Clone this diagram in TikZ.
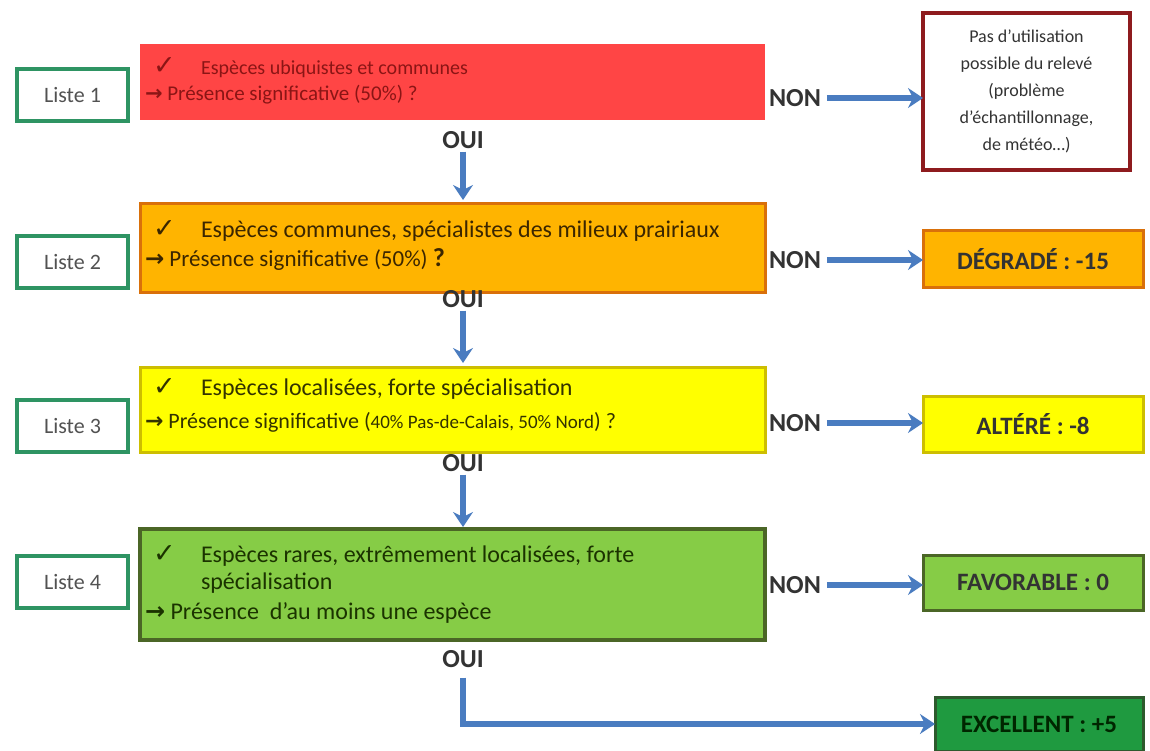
\documentclass[tikz,border=0pt]{standalone}
\usepackage{fontspec}
\setmainfont{Carlito}
\newfontfamily\symfont{DejaVu Sans}
\usetikzlibrary{arrows.meta}
\definecolor{listeg}{HTML}{2E9463}
\definecolor{redfill}{HTML}{FF4545}
\definecolor{orfill}{HTML}{FFB400}
\definecolor{ordraw}{HTML}{D9700A}
\definecolor{yefill}{HTML}{FFFF00}
\definecolor{yedraw}{HTML}{CDBE00}
\definecolor{grfill}{HTML}{86CC46}
\definecolor{grdraw}{HTML}{4B6626}
\definecolor{exfill}{HTML}{1F9A40}
\definecolor{exdraw}{HTML}{2D5A2D}
\definecolor{arrblue}{HTML}{4A7CC0}
\definecolor{darkred}{HTML}{8E1B1E}
\definecolor{redtxt}{HTML}{8B1515}
\definecolor{ortxt}{HTML}{3B2600}
\definecolor{yetxt}{HTML}{333300}
\definecolor{grtxt}{HTML}{1B3300}
\definecolor{txt}{HTML}{333333}
\tikzset{
  every node/.style={outer sep=0pt, inner sep=0pt},
  listebox/.style={draw=listeg, line width=4pt, fill=white, minimum width=111pt, minimum height=52pt, text=txt!85!white, font=\fontsize{22}{26}\selectfont},
  mainbox/.style={minimum width=625pt},
  resbox/.style={minimum width=220pt, minimum height=56pt, font=\bfseries\fontsize{25}{29}\selectfont, text=txt},
  lbl/.style={font=\bfseries\fontsize{26}{30}\selectfont, text=txt},
  line/.style={anchor=base west},
  blue/.style={draw=arrblue, line width=5.5pt, -{Stealth[length=15pt,width=20pt,inset=5pt]}},
}
\newcommand{\chk}{{\symfont\fontsize{27}{27}\selectfont ✓}}
\newcommand{\rarr}{{\symfont\bfseries →}}
\begin{document}
\begin{tikzpicture}[x=1pt,y=-1pt]
\useasboundingbox (0,0) rectangle (1150,751);

% Liste boxes
\node[listebox] (l1) at (72.5,95) {Liste 1};
\node[listebox] (l2) at (72.5,262) {Liste 2};
\node[listebox] (l3) at (72.5,426) {Liste 3};
\node[listebox] (l4) at (72.5,582) {Liste 4};

% main boxes
\node[mainbox, fill=redfill, minimum height=76pt] (b1) at (452,82) {};
\node[mainbox, fill=orfill, draw=ordraw, line width=3pt, minimum height=88pt] (b2) at (452.5,248) {};
\node[mainbox, fill=yefill, draw=yedraw, line width=3pt, minimum height=85pt] (b3) at (452.5,409.5) {};
\node[mainbox, fill=grfill, draw=grdraw, line width=4pt, minimum height=111pt] (b4) at (452,584.5) {};

% texts box 1
\node[line, text=redtxt] (t1c) at (153,75) {\chk};
\node[line, text=redtxt, font=\fontsize{20}{24}\selectfont] (t1a) at (201,75) {Espèces ubiquistes et communes};
\node[line, text=redtxt, font=\fontsize{21}{25}\selectfont] (t1b) at (145,101) {\rarr\ Présence significative (50\%) ?};
% texts box 2
\node[line, text=ortxt] (t2c) at (153,237) {\chk};
\node[line, text=ortxt, font=\fontsize{24}{28}\selectfont] (t2a) at (201,237) {Espèces communes, spécialistes des milieux prairiaux};
\node[line, text=ortxt, font=\fontsize{23}{27}\selectfont] (t2b) at (145,266) {\rarr\ Présence significative (50\%) {\bfseries\fontsize{26}{28}\selectfont ?}};
% texts box 3
\node[line, text=yetxt] (t3c) at (153,395) {\chk};
\node[line, text=yetxt, font=\fontsize{24}{28}\selectfont] (t3a) at (201,395) {Espèces localisées, forte spécialisation};
\node[line, text=yetxt, font=\fontsize{22}{25}\selectfont] (t3b) at (145,428) {\rarr\ Présence significative ({\fontsize{19}{20}\selectfont 40\% Pas-de-Calais, 50\% Nord}) ?};
% texts box 4
\node[line, text=grtxt] (t4c) at (153,562) {\chk};
\node[line, text=grtxt, font=\fontsize{24}{28}\selectfont] (t4a) at (201,562) {Espèces rares, extrêmement localisées, forte};
\node[line, text=grtxt, font=\fontsize{24}{28}\selectfont] (t4d) at (201,589) {spécialisation};
\node[line, text=grtxt, font=\fontsize{24}{28}\selectfont] (t4b) at (145,619) {\rarr\ Présence~ d’au moins une espèce};

% result boxes
\node[draw=darkred, line width=4pt, fill=white, minimum width=207pt, minimum height=157pt, align=center, text=txt, font=\fontsize{18}{27}\selectfont] (r1) at (1026.5,91.5) {Pas d’utilisation\\possible du relevé\\(problème\\d’échantillonnage,\\de météo…)};
\node[resbox, fill=orfill, draw=ordraw, line width=3pt] (r2) at (1033,259) {DÉGRADÉ : -15};
\node[resbox, fill=yefill, draw=yedraw, line width=3pt] (r3) at (1033,424) {ALTÉRÉ : -8};
\node[resbox, fill=grfill, draw=grdraw, line width=3pt, minimum height=55pt] (r4) at (1033,582.5) {FAVORABLE : 0};
\node[resbox, fill=exfill, draw=exdraw, line width=3pt, minimum width=208pt, minimum height=54pt, text=black!85!green] (r5) at (1039,724) {EXCELLENT : +5};

% NON labels
\node[lbl] (n1) at (795,98) {NON};
\node[lbl] (n2) at (795,260) {NON};
\node[lbl] (n3) at (795,423) {NON};
\node[lbl] (n4) at (795,585) {NON};

% OUI labels
\node[lbl] (o1) at (463,140) {OUI};
\node[lbl] (o2) at (463,299) {OUI};
\node[lbl] (o3) at (463,463) {OUI};
\node[lbl] (o4) at (463,659) {OUI};

% arrows
\draw[blue, shorten <=6pt] (n1.east) -- (n1.east -| r1.west);
\draw[blue, shorten <=6pt] (n2.east) -- (n2.east -| r2.west);
\draw[blue, shorten <=6pt] (n3.east) -- (n3.east -| r3.west);
\draw[blue, shorten <=6pt] (n4.east) -- (n4.east -| r4.west);

\draw[blue, shorten <=3pt, shorten >=4pt] (o1.south) -- (o1.south |- b2.north);
\draw[blue, shorten <=3pt, shorten >=4pt] (o2.south) -- (o2.south |- b3.north);
\draw[blue, shorten <=3pt, shorten >=2pt] (o3.south) -- (o3.south |- b4.north);
\draw[blue, shorten <=10pt] (o4.south) |- (r5.west);
\end{tikzpicture}
\end{document}
